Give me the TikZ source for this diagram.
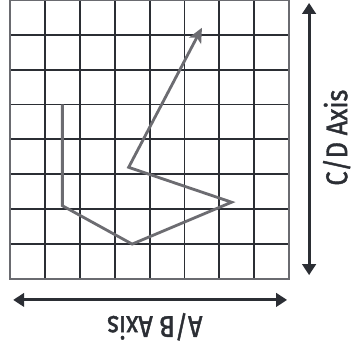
\documentclass[tikz,border=0pt]{standalone}
\usepackage{fontspec}
\setsansfont{Fira Sans}[FakeStretch=0.84,FakeBold=1.4]
\usetikzlibrary{arrows.meta,calc,positioning}
\definecolor{axInk}{HTML}{2B2E34}
\definecolor{axFrame}{HTML}{6A6B70}
\definecolor{axPath}{HTML}{6C6C71}
\tikzset{
 board/.style={line cap=butt,line join=miter},
 gridline/.style={draw=axInk,line width=1.6pt},
 frame/.style={draw=axFrame,line width=1.3pt},
 route/.style={draw=axPath,line width=2.3pt,line join=miter,-{Stealth[length=12pt,width=11pt,inset=3pt]}},
 axis/.style={draw=axInk,line width=2.4pt,{Triangle[length=9pt,width=11pt]}-{Triangle[length=9pt,width=11pt]}},
 axislabel/.style={font=\sffamily\fontsize{24.5}{28}\selectfont,text=axInk,inner sep=0pt}
}

\begin{document}
\begin{tikzpicture}[board,x=28.44pt,y=28.44pt]
 \useasboundingbox (-0.2865,-2.006) rectangle (9.857,7.994);
 % grid
 \foreach \i in {1,...,7}{
  \draw[gridline] (\i,0)--(\i,8);
  \draw[gridline] (0,\i)--(8,\i);
 }
 \draw[frame] (0,0) rectangle (8,8);
 % route
 \coordinate (p0) at (1.5,5);
 \coordinate (p1) at (1.5,2.1);
 \coordinate (p2) at (3.5,1);
 \coordinate (p3) at (6.35,2.2);
 \coordinate (p4) at (3.4,3.2);
 \coordinate (p5) at (5.5,7.2);
 \draw[route] (p0)--(p1)--(p2)--(p3)--(p4)--(p5);
 % axes
 \coordinate (abL) at (0.09,-0.6);
 \coordinate (abR) at (7.94,-0.6);
 \coordinate (cdT) at (8.57,7.91);
 \coordinate (cdB) at (8.57,0.11);
 \draw[axis] (abL)--(abR);
 \draw[axis] (cdB)--(cdT);
 \node[axislabel,rotate=180] (ablabel) at (4.15,-1.37) {A/B Axis};
 \node[axislabel,rotate=90] (cdlabel) at (9.36,4.05) {C/D Axis};
\end{tikzpicture}
\end{document}
